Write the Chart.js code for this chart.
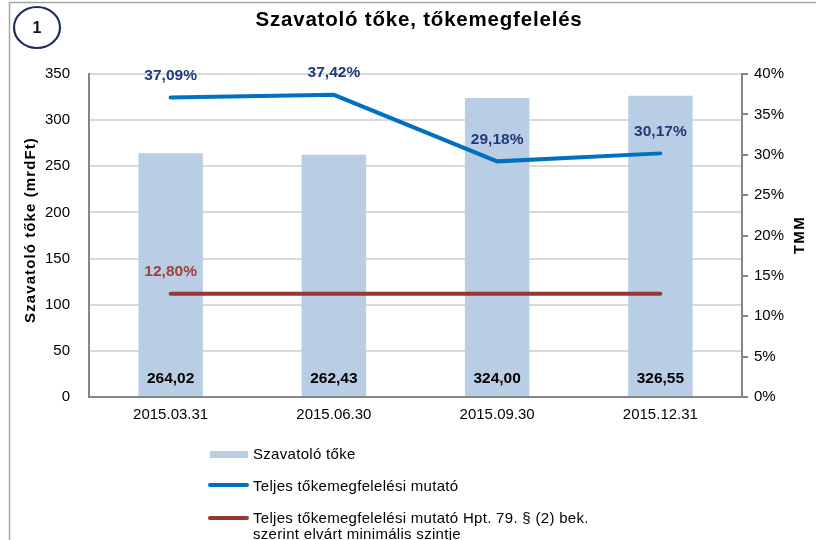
<!DOCTYPE html>
<html>
<head>
<meta charset="utf-8">
<script src="https://cdn.jsdelivr.net/npm/chart.js@4/dist/chart.umd.min.js"></script>
<style>
html,body{margin:0;padding:0;background:#fff;}
#wrap{position:relative;width:816px;height:540px;}
</style>
</head>
<body>
<div id="wrap"><canvas id="c" width="816" height="540"></canvas></div>
<script>
const categories = ['2015.03.31', '2015.06.30', '2015.09.30', '2015.12.31'];
const capitalValues = [264.02, 262.43, 324.00, 326.55];
const tmmValues = [37.09, 37.42, 29.18, 30.17];
const minimumValues = [12.80, 12.80, 12.80, 12.80];
const seriesNames = ['Szavatoló tőke', 'Teljes tőkemegfelelési mutató', 'Teljes tőkemegfelelési mutató Hpt. 79. § (2) bek. szerint elvárt minimális szintje'];
const legendLines3 = ['Teljes tőkemegfelelési mutató Hpt. 79. § (2) bek.', 'szerint elvárt minimális szintje'];
const leftTicks = [0, 50, 100, 150, 200, 250, 300, 350];
const rightTicks = [0, 5, 10, 15, 20, 25, 30, 35, 40];

const FONT = "'Liberation Sans', Arial, sans-serif";
const fmt = (v, d) => v.toFixed(d).replace('.', ',');

const decorPlugin = {
  id: 'decor',
  beforeDraw(chart) {
    const ctx = chart.ctx;
    ctx.save();
    ctx.fillStyle = '#fff';
    ctx.fillRect(0, 0, chart.width, chart.height);
    ctx.strokeStyle = '#a6a6a6';
    ctx.lineWidth = 1.5;
    ctx.beginPath();
    ctx.moveTo(9.5, 540);
    ctx.lineTo(9.5, 2.5);
    ctx.lineTo(816, 2.5);
    ctx.stroke();
    ctx.restore();
  },
  afterDraw(chart) {
    const ctx = chart.ctx;
    ctx.save();
    // circle badge
    ctx.strokeStyle = '#1f2d5e';
    ctx.lineWidth = 2.2;
    ctx.beginPath();
    ctx.ellipse(37, 27.5, 23, 20.5, 0, 0, Math.PI * 2);
    ctx.stroke();
    ctx.fillStyle = '#111';
    ctx.font = 'bold 16px ' + FONT;
    ctx.textAlign = 'center';
    ctx.textBaseline = 'middle';
    ctx.fillText('1', 37, 29);
    // title
    ctx.font = 'bold 20.5px ' + FONT;
    ctx.letterSpacing = '0.8px';
    ctx.fillStyle = '#000';
    ctx.fillText('Szavatoló tőke, tőkemegfelelés', 419, 20);
    // axis titles
    ctx.font = 'bold 15px ' + FONT;
    ctx.letterSpacing = '1.1px';
    ctx.save();
    ctx.translate(31, 230);
    ctx.rotate(-Math.PI / 2);
    ctx.fillText('Szavatoló tőke (mrdFt)', 0, 0);
    ctx.restore();
    ctx.letterSpacing = '1.5px';
    ctx.save();
    ctx.translate(800, 235);
    ctx.rotate(-Math.PI / 2);
    ctx.fillText('TMM', 0, 0);
    ctx.restore();
    // legend
    const ds = chart.data.datasets;
    ctx.textAlign = 'left';
    ctx.font = '15px ' + FONT;
    ctx.letterSpacing = '0.3px';
    ctx.fillStyle = ds[0].backgroundColor;
    ctx.fillRect(210, 451, 38, 7);
    ctx.lineCap = 'round';
    ctx.lineWidth = 4;
    ctx.strokeStyle = ds[1].borderColor;
    ctx.beginPath(); ctx.moveTo(210, 485); ctx.lineTo(247, 485); ctx.stroke();
    ctx.strokeStyle = ds[2].borderColor;
    ctx.beginPath(); ctx.moveTo(210, 518); ctx.lineTo(247, 518); ctx.stroke();
    ctx.fillStyle = '#000';
    ctx.fillText(ds[0].label, 253, 455);
    ctx.fillText(ds[1].label, 253, 487);
    ctx.fillText(legendLines3[0], 253, 519);
    ctx.fillText(legendLines3[1], 253, 535);
    ctx.restore();
  },
  afterDatasetsDraw(chart) {
    const ctx = chart.ctx;
    ctx.save();
    ctx.font = 'bold 15.5px ' + FONT;
    ctx.textAlign = 'center';
    ctx.textBaseline = 'middle';
    const m0 = chart.getDatasetMeta(0);
    ctx.fillStyle = '#000';
    m0.data.forEach((el, i) => {
      ctx.fillText(fmt(capitalValues[i], 2), el.x, chart.scales.y.getPixelForValue(0) - 18);
    });
    const m1 = chart.getDatasetMeta(1);
    ctx.fillStyle = '#1f3a78';
    m1.data.forEach((el, i) => {
      ctx.fillText(fmt(tmmValues[i], 2) + '%', el.x, el.y - 22);
    });
    const m2 = chart.getDatasetMeta(2);
    ctx.fillStyle = '#a0403c';
    ctx.fillText(fmt(minimumValues[0], 2) + '%', m2.data[0].x, m2.data[0].y - 22);
    ctx.restore();
  }
};

new Chart(document.getElementById('c'), {
  data: {
    labels: categories,
    datasets: [
      {
        type: 'bar', label: seriesNames[0], data: capitalValues, yAxisID: 'y',
        backgroundColor: '#b9cde5', categoryPercentage: 1, barPercentage: 0.395, order: 2
      },
      {
        type: 'line', label: seriesNames[1], data: tmmValues, yAxisID: 'y1',
        borderColor: '#0070c0', borderWidth: 4, pointRadius: 0, tension: 0, order: 1,
        borderCapStyle: 'round'
      },
      {
        type: 'line', label: seriesNames[2], data: minimumValues, yAxisID: 'y1',
        borderColor: '#953735', borderWidth: 4, pointRadius: 0, tension: 0, order: 1,
        borderCapStyle: 'round'
      }
    ]
  },
  options: {
    responsive: false,
    animation: false,
    devicePixelRatio: 1,
    layout: { padding: { top: 74, left: 0, right: 0, bottom: 0 } },
    plugins: { legend: { display: false }, tooltip: { enabled: false }, title: { display: false } },
    scales: {
      x: {
        grid: { display: false, drawTicks: false },
        border: { color: '#868686', width: 2 },
        ticks: { color: '#000', font: { family: FONT, size: 15 }, padding: 9, maxRotation: 0 },
        afterFit(s) { s.height = 143; }
      },
      y: {
        position: 'left', min: 0, max: 350,
        afterBuildTicks(s) { s.ticks = leftTicks.map(v => ({ value: v })); },
        grid: { color: '#d9d9d9', lineWidth: 2, drawTicks: false },
        border: { color: '#868686', width: 2 },
        ticks: { color: '#000', font: { family: FONT, size: 15 }, padding: 19 },
        afterFit(s) { s.width = 89; }
      },
      y1: {
        position: 'right', min: 0, max: 40,
        afterBuildTicks(s) { s.ticks = rightTicks.map(v => ({ value: v })); },
        grid: { drawOnChartArea: false, drawTicks: true, tickLength: 6, color: '#868686', lineWidth: 2 },
        border: { color: '#868686', width: 2 },
        ticks: { color: '#000', font: { family: FONT, size: 15 }, padding: 6, callback: v => v + '%' },
        afterFit(s) { s.width = 74; }
      }
    }
  },
  plugins: [decorPlugin]
});
</script>
</body>
</html>
